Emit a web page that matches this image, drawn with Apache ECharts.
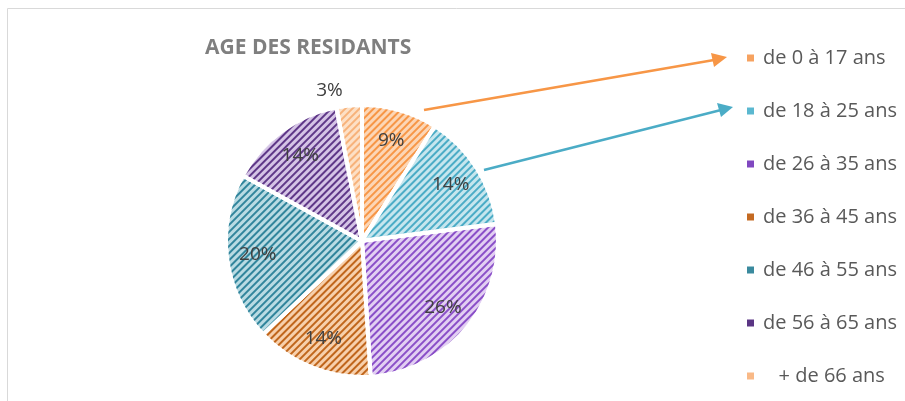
<!DOCTYPE html>
<html>
<head>
<meta charset="utf-8">
<script src="https://cdn.jsdelivr.net/npm/echarts@6/dist/echarts.min.js"></script>
<style>
  html, body { margin: 0; padding: 0; background: #fff; }
  #chart { width: 905px; height: 401px; }
</style>
</head>
<body>
<div id="chart"></div>
<script>
// tranches d'age et pourcentages
const categories = ['de 0 à 17 ans', 'de 18 à 25 ans', 'de 26 à 35 ans', 'de 36 à 45 ans',
  'de 46 à 55 ans', 'de 56 à 65 ans', '   + de 66 ans'];
const values = [9, 14, 26, 14, 20, 14, 3];

// fond clair + hachure foncee
const fillColors = ['#fcd6b6', '#c6e6ee', '#e2cff2', '#f7d0ac', '#b9dbe3', '#d5c4e6', '#fde0c6'];
const stripeColors = ['#f79646', '#4bacc6', '#8a4fc8', '#c0661c', '#31859c', '#5f3888', '#f7b27a'];
const legendColors = ['#f6a260', '#5bb8d0', '#8048c0', '#c46a22', '#3a8a9e', '#5a3584', '#f9b987'];

const chart = echarts.init(document.getElementById('chart'));

const pieData = values.map((v, i) => ({
  name: categories[i],
  value: v,
  itemStyle: {
    color: fillColors[i],
    decal: {
      symbol: 'rect',
      symbolSize: 1,
      dashArrayX: [1, 0],
      dashArrayY: [1.5, 3],
      rotation: -Math.PI / 4,
      color: stripeColors[i]
    }
  }
}));

// serie transparente pour placer les etiquettes plus loin du centre
const labelData = values.map((v, i) => {
  const d = { name: categories[i], value: v };
  if (i === values.length - 1) {
    d.label = { position: 'outside' };
    d.labelLine = { show: false, length: 15, length2: 0 };
  }
  return d;
});

const options = {
  animation: false,
  title: {
    text: 'AGE DES RESIDANTS',
    left: 200,
    top: 33,
    textStyle: {
      fontFamily: 'Open Sans',
      fontSize: 21,
      fontWeight: 'bold',
      color: '#7f7f7f'
    }
  },
  legend: {
    orient: 'vertical',
    left: 745,
    top: 44,
    height: 356,
    padding: 0,
    itemWidth: 9,
    itemHeight: 9,
    itemGap: 25,
    icon: 'rect',
    data: categories.map((c, i) => ({ name: c, itemStyle: { color: legendColors[i], decal: 'none' } })),
    textStyle: {
      fontFamily: 'Open Sans',
      fontSize: 20,
      lineHeight: 28,
      color: '#595959',
      padding: [0, 0, 0, 3]
    }
  },
  graphic: [
    { type: 'rect', shape: { x: 7.5, y: 8.5, width: 1000, height: 1000 },
      style: { fill: 'none', stroke: '#d9d9d9', lineWidth: 1 }, silent: true },
    { type: 'line', shape: { x1: 424, y1: 110, x2: 714, y2: 60 },
      style: { stroke: '#f79646', lineWidth: 2.5 } },
    { type: 'polygon', shape: { points: [[727, 57], [711, 53], [714, 67]] },
      style: { fill: '#f79646' } },
    { type: 'line', shape: { x1: 484, y1: 170, x2: 721, y2: 110 },
      style: { stroke: '#4bacc6', lineWidth: 2.5 } },
    { type: 'polygon', shape: { points: [[733, 107], [717, 103], [721, 117]] },
      style: { fill: '#4bacc6' } }
  ],
  series: [
    {
      type: 'pie',
      center: [362, 241],
      radius: [0, 136],
      startAngle: 90,
      clockwise: true,
      label: { show: false },
      labelLine: { show: false },
      itemStyle: { borderColor: '#ffffff', borderWidth: 4 },
      emphasis: { disabled: true },
      data: pieData
    },
    {
      type: 'pie',
      center: [362, 241],
      radius: [68, 136],
      startAngle: 90,
      clockwise: true,
      silent: true,
      itemStyle: { color: 'rgba(0,0,0,0)' },
      label: {
        show: true,
        position: 'inside',
        formatter: '{c}%',
        fontFamily: 'Open Sans',
        fontSize: 19,
        color: '#404040'
      },
      emphasis: { disabled: true },
      data: labelData
    }
  ]
};

chart.setOption(options);
</script>
</body>
</html>
